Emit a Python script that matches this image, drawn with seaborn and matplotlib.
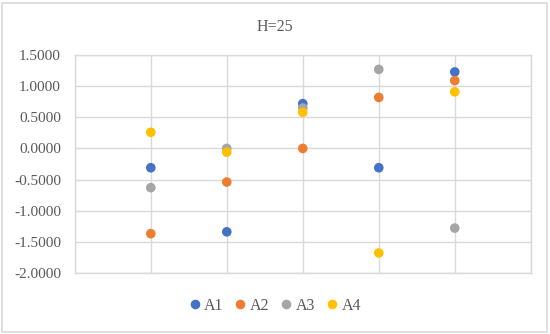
import pandas as pd
import matplotlib
matplotlib.use("Agg")
import matplotlib.pyplot as plt
import seaborn as sns
from matplotlib.patches import Rectangle

# data
positions = [1, 2, 3, 4, 5]
a1 = [-0.31, -1.34, 0.72, -0.31, 1.23]
a2 = [-1.37, -0.54, 0.00, 0.82, 1.09]
a3 = [-0.63, 0.00, 0.65, 1.27, -1.28]
a4 = [0.26, -0.06, 0.58, -1.68, 0.91]
series_names = ["A1", "A2", "A3", "A4"]
colors = ["#4472C4", "#ED7D31", "#A5A5A5", "#FFC000"]
y_ticks = [-2.0, -1.5, -1.0, -0.5, 0.0, 0.5, 1.0, 1.5]

rows = []
for name, vals in zip(series_names, [a1, a2, a3, a4]):
    for x, v in zip(positions, vals):
        rows.append({"x": x, "value": v, "series": name})
df = pd.DataFrame(rows)

sns.set_theme(style="white")
plt.rcParams["font.family"] = ["Liberation Serif", "DejaVu Serif"]
text_color = "#595959"
grid_color = "#D9D9D9"

fig = plt.figure(figsize=(5.5, 3.34), dpi=100)
ax = fig.add_axes([0.136, 0.183, 0.829, 0.652])

sns.scatterplot(data=df, x="x", y="value", hue="series", palette=colors,
                s=48, edgecolor="none", ax=ax, zorder=3, legend=True)

ax.set_xlim(0, 6)
ax.set_ylim(-2.0, 1.5)
ax.set_xticks(range(0, 7))
ax.set_xticklabels([])
ax.set_yticks(y_ticks)
ax.set_yticklabels([f"{t:.4f}" for t in y_ticks], fontsize=11, color=text_color)
ax.tick_params(axis="both", length=0, pad=10)
ax.grid(True, color=grid_color, linewidth=1)
ax.set_axisbelow(True)
for sp in ax.spines.values():
    sp.set_color(grid_color)
    sp.set_linewidth(1)
ax.set_xlabel("")
ax.set_ylabel("")

fig.text(0.5, 0.92, "H=25", ha="center", va="center", fontsize=11.5, color=text_color)

handles, labels = ax.get_legend_handles_labels()
ax.legend(handles, labels, loc="center", ncol=4, frameon=False, fontsize=11.5,
          handlelength=0.7, handletextpad=0.25, columnspacing=0.7,
          labelcolor=text_color)
ax.get_legend().set_bbox_to_anchor((0.5, 0.084), transform=fig.transFigure)

fig.patches.append(Rectangle((0.004, 0.006), 0.99, 0.985, transform=fig.transFigure,
                             fill=False, edgecolor=grid_color, linewidth=1.2))

fig.savefig("out.png", dpi=100)
